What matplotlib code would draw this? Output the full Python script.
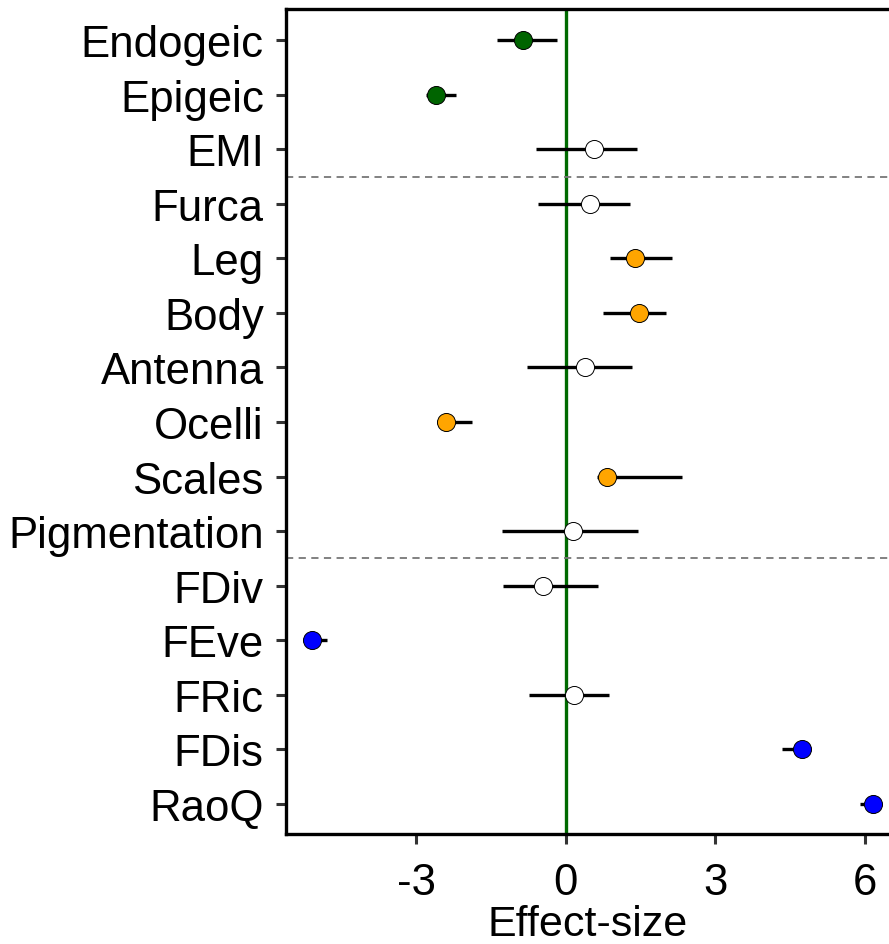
import matplotlib
matplotlib.use("Agg")
import matplotlib.pyplot as plt

plt.rcParams['font.family'] = ['Liberation Sans', 'DejaVu Sans']
plt.rcParams['axes.unicode_minus'] = False

labels = ["Endogeic", "Epigeic", "EMI", "Furca", "Leg", "Body", "Antenna", "Ocelli",
          "Scales", "Pigmentation", "FDiv", "FEve", "FRic", "FDis", "RaoQ"]
effect = [-0.86, -2.61, 0.56, 0.48, 1.39, 1.47, 0.38, -2.41,
          0.82, 0.14, -0.46, -5.10, 0.16, 4.74, 6.16]
ci_low = [-1.39, -2.80, -0.60, -0.56, 0.88, 0.74, -0.78, -2.59,
          0.62, -1.29, -1.27, -5.25, -0.74, 4.34, 5.90]
ci_high = [-0.18, -2.21, 1.43, 1.29, 2.13, 2.01, 1.33, -1.89,
           2.33, 1.45, 0.64, -4.80, 0.86, 4.90, 6.30]
colors = ["#006400", "#006400", "white", "white", "#FFA500", "#FFA500", "white", "#FFA500",
          "#FFA500", "white", "white", "#0000FF", "white", "#0000FF", "#0000FF"]
separators = [2.5, 9.5]

fig = plt.figure(figsize=(8.89, 9.45), dpi=100)
ax = fig.add_axes([286/889, 1 - 835/945, 1 - 286/889, (835 - 10)/945])

ax.axvline(0, color="#006a00", lw=2.4, zorder=1)
for s in separators:
    ax.axhline(s, color="#777777", lw=1.3, ls=(0, (4, 3)), zorder=1)

for i, (e, lo, hi, c) in enumerate(zip(effect, ci_low, ci_high, colors)):
    ax.plot([lo, hi], [i, i], color="black", lw=2.4, solid_capstyle="butt", zorder=2)
    ax.plot(e, i, "o", ms=13, mfc=c, mec="black", mew=0.7, zorder=3, clip_on=False)

ax.set_yticks(range(len(labels)))
ax.set_yticklabels(labels)
ax.set_ylim(14.55, -0.57)
ax.set_xlim(-5.62, 6.49)
ax.set_xticks([-3, 0, 3, 6])
ax.set_xlabel("Effect-size", fontsize=31, labelpad=1)
ax.tick_params(axis="both", labelsize=31.5, width=2.2, length=7, color="#333333")
ax.tick_params(axis="y", pad=9)
ax.tick_params(axis="x", pad=13)
for side in ["left", "bottom", "top"]:
    ax.spines[side].set_linewidth(2.4)
ax.spines["right"].set_visible(False)

fig.savefig("out.png", dpi=100)
